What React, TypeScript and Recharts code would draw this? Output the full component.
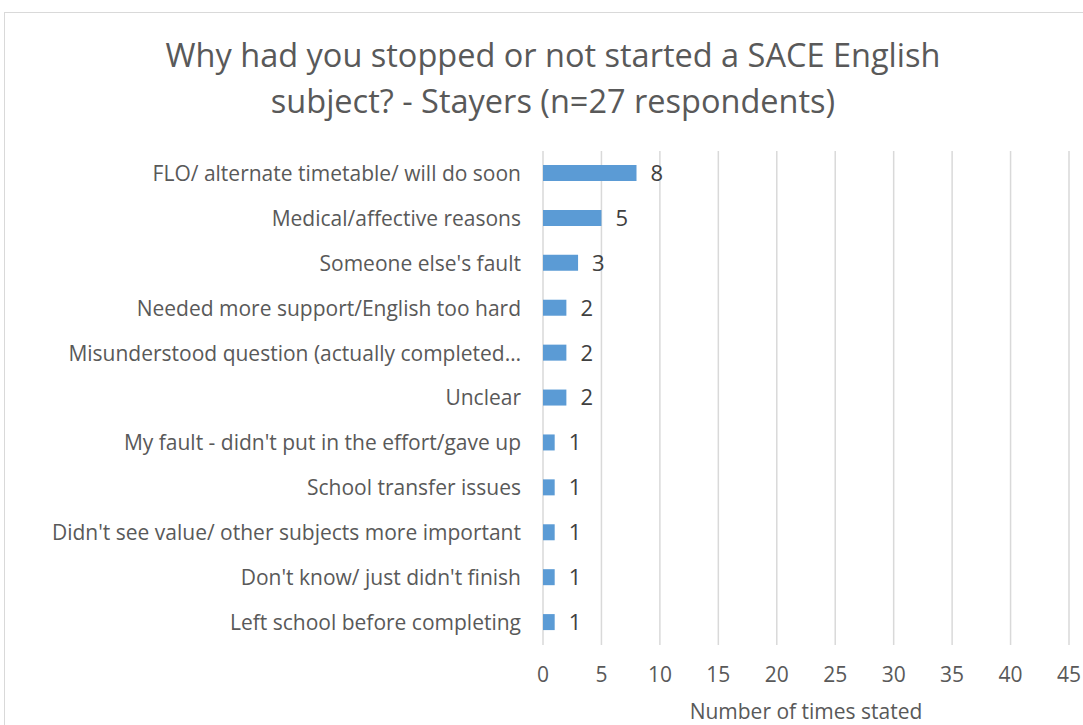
import React from "react";
import { BarChart, Bar, XAxis, YAxis, CartesianGrid, LabelList } from "recharts";

const categories = [
  "FLO/ alternate timetable/ will do soon",
  "Medical/affective reasons",
  "Someone else's fault",
  "Needed more support/English too hard",
  "Misunderstood question (actually completed…",
  "Unclear",
  "My fault - didn't put in the effort/gave up",
  "School transfer issues",
  "Didn't see value/ other subjects more important",
  "Don't know/ just didn't finish",
  "Left school before completing",
];
const counts = [8, 5, 3, 2, 2, 2, 1, 1, 1, 1, 1];
const xTicks = [0, 5, 10, 15, 20, 25, 30, 35, 40, 45];
const titleLines = [
  "Why had you stopped or not started a SACE English",
  "subject? - Stayers (n=27 respondents)",
];
const xAxisTitle = "Number of times stated";

const data = categories.map((name, i) => ({ name, value: counts[i] }));

const FONT = "'Open Sans', sans-serif";
const TEXT = "#595959";

const ValueLabel = (props: any) => {
  const { x, y, width, height, value } = props;
  return (
    <text
      x={Number(x) + Number(width) + 14}
      y={Number(y) + Number(height) / 2}
      dy="0.36em"
      textAnchor="start"
      fill="#404040"
      fontSize={22}
      fontFamily={FONT}
    >
      {value}
    </text>
  );
};

export default function App() {
  return (
    <div style={{ position: "absolute", left: 0, top: 0, width: 1083, height: 725, overflow: "hidden", background: "#fff", fontFamily: FONT }}>
      <div style={{ position: "absolute", left: 4, top: 12, width: 1200, height: 900, border: "1px solid #d9d9d9", boxSizing: "border-box" }} />
      <div style={{ position: "absolute", left: 0, top: 32, width: 1106, textAlign: "center", color: TEXT, fontSize: 32.5, lineHeight: "46px" }}>
        {titleLines.map((t) => (
          <div key={t}>{t}</div>
        ))}
      </div>
      <div style={{ position: "absolute", left: 0, top: 0 }}>
        <BarChart
          width={1083}
          height={725}
          data={data}
          layout="vertical"
          margin={{ top: 151, right: 14, bottom: 0, left: 0 }}
        >
          <CartesianGrid horizontal={false} stroke="#d9d9d9" strokeWidth={1.5} />
          <XAxis
            type="number"
            domain={[0, 45]}
            ticks={xTicks}
            interval={0}
            axisLine={false}
            tickLine={false}
            height={80}
            tickMargin={16}
            tick={{ fill: TEXT, fontSize: 21, fontFamily: FONT }}
            label={{ value: xAxisTitle, position: "insideBottom", offset: 6, fill: TEXT, fontSize: 21, fontFamily: FONT }}
          />
          <YAxis
            type="category"
            dataKey="name"
            width={543}
            axisLine={false}
            tickLine={false}
            tickMargin={16}
            interval={0}
            tick={{ fill: TEXT, fontSize: 21, fontFamily: FONT }}
          />
          <Bar dataKey="value" fill="#5b9bd5" barSize={16} isAnimationActive={false}>
            <LabelList dataKey="value" content={ValueLabel} />
          </Bar>
        </BarChart>
      </div>
    </div>
  );
}
